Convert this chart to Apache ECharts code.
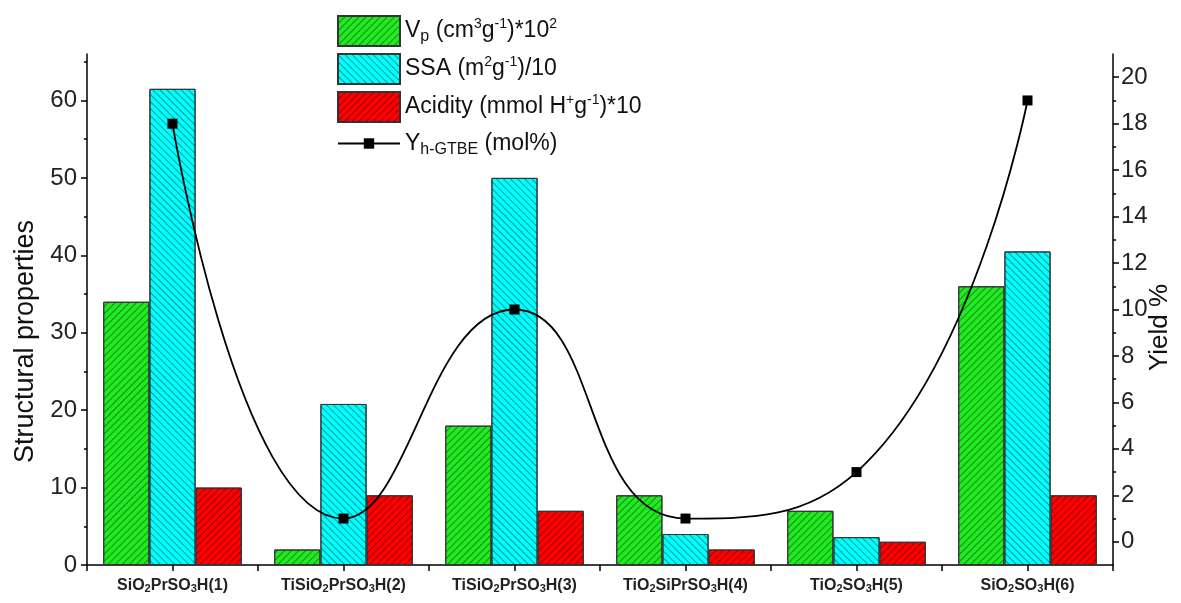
<!DOCTYPE html>
<html>
<head>
<meta charset="utf-8">
<script src="https://cdn.jsdelivr.net/npm/echarts@6/dist/echarts.min.js"></script>
<style>
html,body{margin:0;padding:0;background:#fff;}
#chart{width:1181px;height:603px;}
</style>
</head>
<body>
<div id="chart"></div>
<script>
// ---- data ----
const categories = ['SiO2PrSO3H(1)', 'TiSiO2PrSO3H(2)', 'TiSiO2PrSO3H(3)', 'TiO2SiPrSO3H(4)', 'TiO2SO3H(5)', 'SiO2SO3H(6)'];
const vpValues = [34, 2, 18, 9, 7, 36];
const ssaValues = [61.5, 20.8, 50, 4, 3.6, 40.5];
const acidityValues = [10, 9, 7, 2, 3, 9];
const yieldValues = [18, 1, 10, 1, 3, 19];
const leftTicks = [0, 10, 20, 30, 40, 50, 60];
const leftMinorTicks = [5, 15, 25, 35, 45, 55, 65];
const rightTicks = [0, 2, 4, 6, 8, 10, 12, 14, 16, 18, 20];
const rightMinorTicks = [1, 3, 5, 7, 9, 11, 13, 15, 17, 19];

const seriesNames = ['Vp', 'SSA', 'Acidity', 'Yield'];
const legendRich = {
  'Vp': '{n|V}{sub|p}{n| (cm}{sup|3}{n|g}{sup|-1}{n|)*10}{sup|2}',
  'SSA': '{n|SSA (m}{sup|2}{n|g}{sup|-1}{n|)/10}',
  'Acidity': '{n|Acidity (mmol H}{sup|+}{n|g}{sup|-1}{n|)*10}',
  'Yield': '{n|Y}{sub|h-GTBE}{n| (mol%)}'
};

const FONT = 'Liberation Sans, Arial, sans-serif';
const chart = echarts.init(document.getElementById('chart'), null, {renderer: 'canvas'});

function catLabel(v) {
  const i = v.indexOf('(');
  const formula = v.slice(0, i), rest = v.slice(i);
  let s = '{b|' + formula.replace(/(\d)/g, '}{s|$1}{b|') + rest + '}';
  return s.replace(/\{b\|\}/g, '');
}

const legendTextStyle = {
  fontFamily: FONT,
  color: '#111',
  rich: {
    n: {fontSize: 23, fontFamily: FONT, color: '#111', lineHeight: 28, verticalAlign: 'middle'},
    sup: {fontSize: 14, fontFamily: FONT, color: '#111', lineHeight: 14, verticalAlign: 'top'},
    sub: {fontSize: 16, fontFamily: FONT, color: '#111', lineHeight: 18, verticalAlign: 'bottom'}
  }
};

function hatch(rot) {
  return {symbol: 'rect', dashArrayX: [1, 0], dashArrayY: [1, 4], rotation: rot, color: 'rgba(0,0,0,0.4)', symbolSize: 1};
}

const axisLineStyle = {color: '#000', width: 1.5};
const tickStyle = {color: '#000', width: 1.5};

const option = {
  backgroundColor: '#fff',
  animation: false,
  grid: {left: 87, right: 68, top: 54, bottom: 38, containLabel: false, outerBoundsMode: 'none'},
  legend: [{
    data: seriesNames.slice(0, 3),
    orient: 'vertical',
    left: 332, top: 10,
    icon: 'rect',
    itemWidth: 62, itemHeight: 30, itemGap: 6,
    formatter: n => legendRich[n],
    textStyle: legendTextStyle,
    selectedMode: false
  }, {
    data: [seriesNames[3]],
    orient: 'vertical',
    left: 332, top: 127,
    itemWidth: 62, itemHeight: 13,
    formatter: n => legendRich[n],
    textStyle: legendTextStyle,
    selectedMode: false
  }],
  xAxis: [{
    type: 'category',
    data: categories,
    position: 'bottom',
    axisLine: {lineStyle: axisLineStyle},
    axisTick: {show: true, alignWithLabel: false, length: 6, lineStyle: tickStyle},
    axisLabel: {
      interval: 0,
      margin: 9,
      formatter: catLabel,
      rich: {
        b: {fontSize: 16, fontWeight: 'bold', fontFamily: FONT, color: '#222', lineHeight: 20, verticalAlign: 'bottom'},
        s: {fontSize: 11, fontWeight: 'bold', fontFamily: FONT, color: '#222', lineHeight: 14, verticalAlign: 'bottom'}
      }
    },
    splitLine: {show: false}
  }, {
    type: 'category',
    data: categories,
    position: 'bottom',
    axisLine: {show: false},
    axisTick: {show: true, alignWithLabel: true, length: 6, lineStyle: tickStyle},
    axisLabel: {show: false},
    splitLine: {show: false}
  }],
  yAxis: [{
    type: 'value', min: 0, max: 66, position: 'left',
    axisLine: {show: true, lineStyle: axisLineStyle},
    axisTick: {show: true, customValues: leftTicks, length: 6, lineStyle: tickStyle},
    axisLabel: {customValues: leftTicks, fontSize: 24, fontFamily: FONT, color: '#222', margin: 10},
    splitLine: {show: false},
    name: 'Structural properties',
    nameLocation: 'middle', nameGap: 47,
    nameTextStyle: {fontSize: 27, fontFamily: FONT, color: '#111', padding: [0, 64, 0, 0]}
  }, {
    type: 'value', min: 0, max: 66, position: 'left',
    axisLine: {show: false},
    axisTick: {show: true, customValues: leftMinorTicks, length: 3, lineStyle: tickStyle},
    axisLabel: {show: false},
    splitLine: {show: false}
  }, {
    type: 'value', min: -1, max: 21, position: 'right',
    axisLine: {show: true, lineStyle: axisLineStyle},
    axisTick: {show: true, customValues: rightTicks, length: 6, lineStyle: tickStyle},
    axisLabel: {customValues: rightTicks, fontSize: 24, fontFamily: FONT, color: '#222', margin: 8},
    splitLine: {show: false},
    name: 'Yield %',
    nameLocation: 'middle', nameGap: 34, nameMoveOverlap: false,
    nameTextStyle: {fontSize: 26, fontFamily: FONT, color: '#111', padding: [0, 36, 0, 0]}
  }, {
    type: 'value', min: -1, max: 21, position: 'right',
    axisLine: {show: false},
    axisTick: {show: true, customValues: rightMinorTicks, length: 3, lineStyle: tickStyle},
    axisLabel: {show: false},
    splitLine: {show: false}
  }],
  series: [{
    name: 'Vp', type: 'bar', xAxisIndex: 0, yAxisIndex: 0,
    data: vpValues, barGap: '0%', barCategoryGap: '19%',
    itemStyle: {color: '#22ea22', borderColor: '#333', borderWidth: 1, decal: hatch(-Math.PI / 4)}
  }, {
    name: 'SSA', type: 'bar', xAxisIndex: 0, yAxisIndex: 0,
    data: ssaValues, barGap: '0%', barCategoryGap: '19%',
    itemStyle: {color: '#00ffff', borderColor: '#333', borderWidth: 1, decal: hatch(Math.PI / 4)}
  }, {
    name: 'Acidity', type: 'bar', xAxisIndex: 0, yAxisIndex: 0,
    data: acidityValues, barGap: '0%', barCategoryGap: '19%',
    itemStyle: {color: '#ff0000', borderColor: '#333', borderWidth: 1, decal: hatch(-Math.PI / 4)}
  }, {
    name: 'Yield', type: 'line', xAxisIndex: 0, yAxisIndex: 2,
    data: yieldValues, smooth: 0.5, z: 5,
    symbol: 'rect', symbolSize: 10,
    itemStyle: {color: '#000'},
    lineStyle: {color: '#000', width: 1.8}
  }]
};
chart.setOption(option);
</script>
</body>
</html>
